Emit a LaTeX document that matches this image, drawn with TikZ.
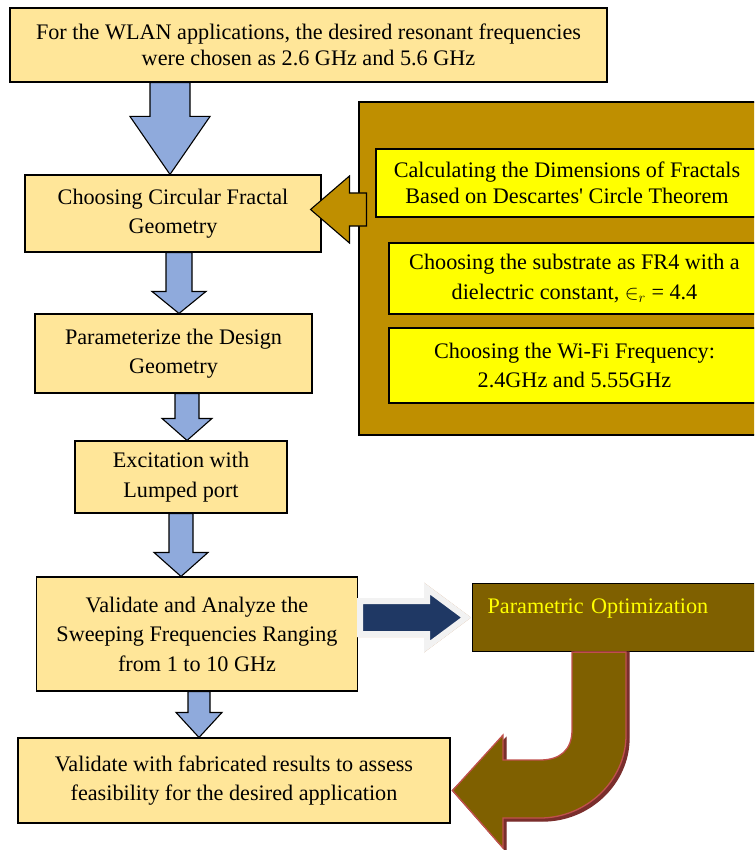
\documentclass[tikz,border=0pt]{standalone}
\usepackage{fontspec}
\setmainfont{Liberation Serif}
\usetikzlibrary{calc, positioning}

\definecolor{boxfill}{HTML}{FFE699}
\definecolor{arrowblue}{HTML}{8FAADC}
\definecolor{toolgold}{HTML}{BF8F00}
\definecolor{noteyellow}{HTML}{FFFF00}
\definecolor{optimbrown}{HTML}{7F6000}
\definecolor{navyarrow}{HTML}{1F3864}
\definecolor{rimgray}{HTML}{F2F2F2}
\definecolor{tanshadow}{HTML}{D2A47E}
\definecolor{curverim}{HTML}{C0504D}
\definecolor{curveshadow}{HTML}{7A2E2C}

\newcommand{\boxfont}{\fontsize{22.2}{29.5}\selectfont}
\newcommand{\tightfont}{\fontsize{22.2}{26.5}\selectfont}

\tikzstyle{stepbox} = [rectangle, draw=black, line width=1.1pt, fill=boxfill, align=center, font=\boxfont, inner sep=0pt]
\tikzstyle{notebox} = [stepbox, fill=noteyellow]
\tikzstyle{toolbox} = [rectangle, draw=black, line width=1.1pt, fill=toolgold]
\tikzstyle{bluearrow} = [draw=black, line width=1.1pt, fill=arrowblue, line join=miter]

% block arrow pointing down: from, to, x, shaft half width, head half width, head length
\newcommand{\blockdown}[6]{%
  \draw[bluearrow] let \p1=(#1.south), \p2=(#2.north) in
    (#3pt-#4pt,\y1) -- (#3pt+#4pt,\y1) -- (#3pt+#4pt,\y2+#6pt) -- (#3pt+#5pt,\y2+#6pt)
    -- (#3pt,\y2) -- (#3pt-#5pt,\y2+#6pt) -- (#3pt-#4pt,\y2+#6pt) -- cycle;}

\begin{document}
\begin{tikzpicture}[x=1pt, y=-1pt]
\useasboundingbox (0,0) rectangle (754,850);
\clip (0,0) rectangle (754,850);

% Right panel (design inputs)
\node[toolbox, minimum width=411pt, minimum height=333pt] (tools) at (564.5,268.5) {};
\node[notebox, font=\tightfont, minimum width=382pt, minimum height=68pt] (calc) at (567,183) {Calculating the Dimensions of Fractals\\Based on Descartes\textquotesingle{} Circle Theorem};
\node[notebox, minimum width=371pt, minimum height=71pt] (substrate) at (574.5,278.5) {Choosing the substrate as FR4 with a\\dielectric constant, \(\in_r\) = 4.4};
\node[notebox, minimum width=371pt, minimum height=75pt] (wifi) at (574.5,365.5) {Choosing the Wi-Fi Frequency:\\2.4GHz and 5.55GHz};

% Main steps
\node[stepbox, font=\tightfont, minimum width=597pt, minimum height=74pt] (wlan) at (308.5,45) {For the WLAN applications, the desired resonant frequencies\\were chosen as 2.6 GHz and 5.6 GHz};
\node[stepbox, minimum width=296pt, minimum height=77pt] (choose) at (173,213.5) {Choosing Circular Fractal\\Geometry};
\node[stepbox, minimum width=277pt, minimum height=79pt] (param) at (173.5,353.5) {Parameterize the Design\\Geometry};
\node[stepbox, minimum width=212pt, minimum height=72pt] (excite) at (181,477) {Excitation with\\Lumped port};
\node[stepbox, minimum width=321pt, minimum height=114pt] (validate) at (197,634) {Validate and Analyze the\\Sweeping Frequencies Ranging\\from 1 to 10 GHz};
\node[stepbox, minimum width=432pt, minimum height=85pt] (fab) at (234,780.5) {Validate with fabricated results to assess\\feasibility for the desired application};
\node[rectangle, draw=black, line width=1.1pt, fill=optimbrown, anchor=north west, minimum width=298pt,
  text width=268pt, inner xsep=15pt, inner ysep=14pt, text height=16pt, text depth=24pt,
  align=left, font=\boxfont, text=noteyellow] (optim) at (472,583) {Parametric Optimization};

% Arrow from the right panel
\draw[toolbox, line join=miter] let \p1=(tools.west), \p2=(choose.east) in
  (\x1+8pt,\y2+20.5pt) -- (\x1-9pt,\y2+20.5pt) -- (\x1-9pt,\y2+37.5pt) -- (\x2-11pt,\y2+4pt)
  -- (\x1-9pt,\y2-29.5pt) -- (\x1-9pt,\y2-12.5pt) -- (\x1+8pt,\y2-12.5pt) -- cycle;

% Flow arrows
\blockdown{wlan}{choose}{170}{20}{40}{58}
\blockdown{choose}{param}{179}{13}{27}{22}
\blockdown{param}{excite}{187}{12}{25}{22}
\blockdown{excite}{validate}{181}{12}{27}{24}
\blockdown{validate}{fab}{199}{11}{23}{25}

% Arrow to optimization
\begin{scope}[line width=6pt, line join=miter]
\path[fill=tanshadow, draw=tanshadow, xshift=3pt, yshift=-5pt] let \p1=(validate.east), \p2=(optim.west) in
  (\x1+2pt,\y2+16.5pt) -- (\x2-45pt,\y2+16.5pt) -- (\x2-45pt,\y2+29pt) -- (\x2-6pt,\y2)
  -- (\x2-45pt,\y2-29pt) -- (\x2-45pt,\y2-16.5pt) -- (\x1+2pt,\y2-16.5pt) -- cycle;
\path[fill=navyarrow, draw=rimgray] let \p1=(validate.east), \p2=(optim.west) in
  (\x1+2pt,\y2+16.5pt) -- (\x2-45pt,\y2+16.5pt) -- (\x2-45pt,\y2+29pt) -- (\x2-6pt,\y2)
  -- (\x2-45pt,\y2-29pt) -- (\x2-45pt,\y2-16.5pt) -- (\x1+2pt,\y2-16.5pt) -- cycle;
\end{scope}

% Return arrow
\foreach \shade/\rim/\dx in {curveshadow/curveshadow/3, optimbrown/curverim/0}
  \path[fill=\shade, draw=\rim, line width=1.3pt, shift={(\dx,\dx)}]
    (572,0 |- optim.south) -- (626,0 |- optim.south) -- (626,735)
    .. controls (626,781) and (586,818) .. (540,818) -- (503,818) -- (503,848)
    -- ($(fab.east)+(2,10)$) -- (503,735) -- (503,760) -- (540,760)
    .. controls (560,760) and (572,750) .. (572,730) -- cycle;

\end{tikzpicture}
\end{document}
